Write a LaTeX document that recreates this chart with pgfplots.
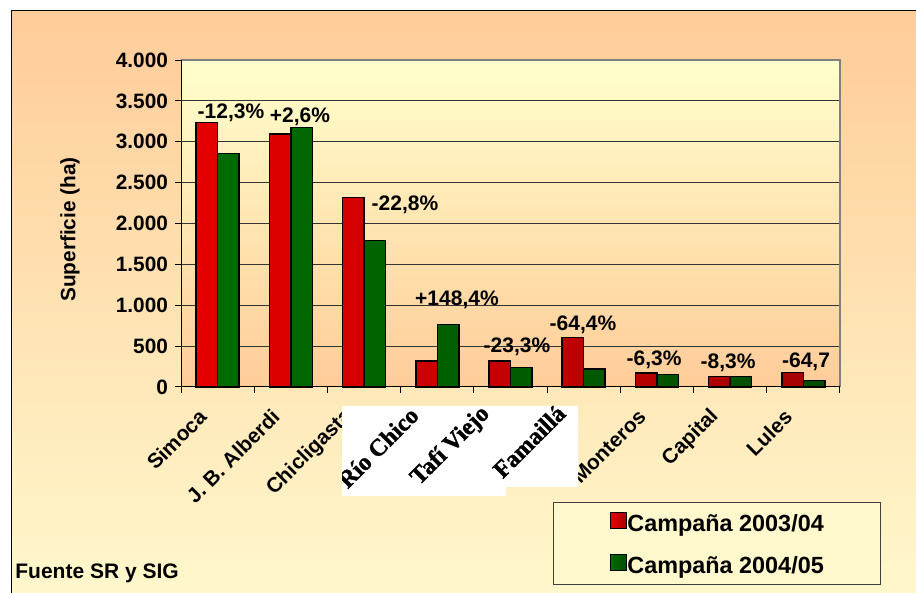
\documentclass[border=0pt]{standalone}
\usepackage{pgfplots}
\pgfplotsset{compat=1.18}
\usepackage{pgfplotstable}
\usepackage{fontspec}
\setmainfont{Liberation Sans}
\newfontfamily\serifb[BoldFeatures={FakeBold=1.5}]{Liberation Serif}
\definecolor{peach}{HTML}{FFCC99}
\definecolor{cream}{HTML}{FFF8CC}
\definecolor{paleyel}{HTML}{FFFFCC}
\definecolor{bordergray}{HTML}{808080}

% superficie (ha) por departamento
\pgfplotstableread{
x  a     b
0  3238  2859
1  3095  3172
2  2316  1790
3  318   767
4  318   241
5  603   220
6  171   151
7  126   126
8  175   82
}\datos

\begin{document}
\begin{tikzpicture}[font=\bfseries]
\useasboundingbox (0,0) rectangle (458pt,296.5pt);
% fondo general
\shade[top color=peach, bottom color=cream] (5.5pt,-2pt) rectangle (460pt,291pt);
\draw[black, line width=0.5pt] (5.5pt,-2pt) -- (5.5pt,291pt) -- (460pt,291pt);
% caja de la leyenda
\shade[top color=cream, middle color=peach, bottom color=cream] (276.5pt,4pt) rectangle (440pt,45pt);
\draw[black!75, line width=0.5pt] (276.5pt,4pt) rectangle (440pt,45pt);

\begin{axis}[
  at={(90.5pt,103pt)}, anchor=south west,
  scale only axis, width=329.5pt, height=163.5pt,
  clip=false,
  ybar=0pt, bar width=10.75pt,
  xmin=-0.5, xmax=8.5, ymin=0, ymax=4000,
  xtick={-0.5,0.5,...,8.5},
  x tick label as interval,
  xticklabels={Simoca,J. B. Alberdi,Chicligasta,{},{},{},Monteros,Capital,Lules},
  ytick={0,500,...,4000},
  yticklabels={0,500,1.000,1.500,2.000,2.500,3.000,3.500,4.000},
  xticklabel style={xshift=-5pt, yshift=-7.7pt, rotate=45, anchor=east, font=\fontsize{10.4}{12}\selectfont\bfseries},
  yticklabel style={font=\fontsize{10.4}{12}\selectfont\bfseries},
  tick pos=left, tick align=outside, major tick length=3pt,
  tick style={black, line width=0.5pt},
  axis line style={draw=none},
  ymajorgrids, major grid style={black!80, line width=0.5pt},
  axis background/.style={shade, top color=paleyel, bottom color=peach},
  ylabel={Superficie (ha)},
  every axis y label/.style={at={(axis description cs:-0.1684,0.4817)}, rotate=90, anchor=center, font=\fontsize{10.4}{12}\selectfont\bfseries},
  legend style={at={(rel axis cs:0.651,-0.382)}, anchor=north west, draw=none, fill=none,
    inner sep=0pt, font=\fontsize{11.7}{14}\selectfont\bfseries, row sep=8.5pt,
    nodes={inner sep=0pt, text height=8.5pt, text depth=2.5pt},
    /tikz/every even column/.append style={column sep=6pt}},
  legend image code/.code={\draw[#1, line width=0.5pt] (0pt,-1.5pt) rectangle (8pt,6.5pt);},
]
\addplot[draw=black, line width=0.75pt, left color=red!90!black, middle color=red, right color=red!65!black]
  table[x=x, y=a] {\datos};
\addplot[draw=black, line width=0.75pt, left color=green!42!black, middle color=green!55!black, right color=green!30!black]
  table[x=x, y=b] {\datos};
\legend{Campaña 2003/04, Campaña 2004/05}

\draw[bordergray, line width=1pt] (rel axis cs:0,1) -- (rel axis cs:1,1) -- (rel axis cs:1,0);
\draw[black, line width=0.5pt] (rel axis cs:0,1) -- (rel axis cs:0,0) -- (rel axis cs:1,0);

\begin{scope}[every node/.style={anchor=base, inner sep=0pt, font=\fontsize{10.5}{12}\selectfont\bfseries}]
\node at (axis cs:0.183,3285) {-12,3\%};
\node at (axis cs:1.125,3238) {+2,6\%};
\node at (axis cs:2.559,2165) {-22,8\%};
\node at (axis cs:3.269,995) {+148,4\%};
\node at (axis cs:4.089,420) {-23,3\%};
\node at (axis cs:4.990,685) {-64,4\%};
\node at (axis cs:5.960,261) {-6,3\%};
\node at (axis cs:6.971,229) {-8,3\%};
\node at (axis cs:8.036,236) {-64,7};
\end{scope}
\end{axis}

% recuadro blanco con etiquetas pegadas
\fill[white] (171pt,93.5pt) -- (289pt,93.5pt) -- (289pt,53pt) -- (253pt,53pt) -- (253pt,48.5pt) -- (171pt,48.5pt) -- cycle;
\begin{scope}
\clip (171pt,93.5pt) -- (289pt,93.5pt) -- (289pt,53pt) -- (253pt,53pt) -- (253pt,48.5pt) -- (171pt,48.5pt) -- cycle;
\begin{scope}[every node/.style={rotate=45, anchor=south west, inner sep=0pt, font=\serifb\fontsize{12}{14}\selectfont\bfseries}]
\node at (174pt,51.5pt) {Río Chico};
\node at (211.5pt,51.5pt) {Tafí Viejo};
\node at (251.5pt,56.5pt) {Famaillá};
\end{scope}
\end{scope}

\node[anchor=base west, inner sep=0pt, font=\fontsize{10.5}{12}\selectfont\bfseries] at (7.5pt,7pt) {Fuente SR y SIG};
\end{tikzpicture}
\end{document}
